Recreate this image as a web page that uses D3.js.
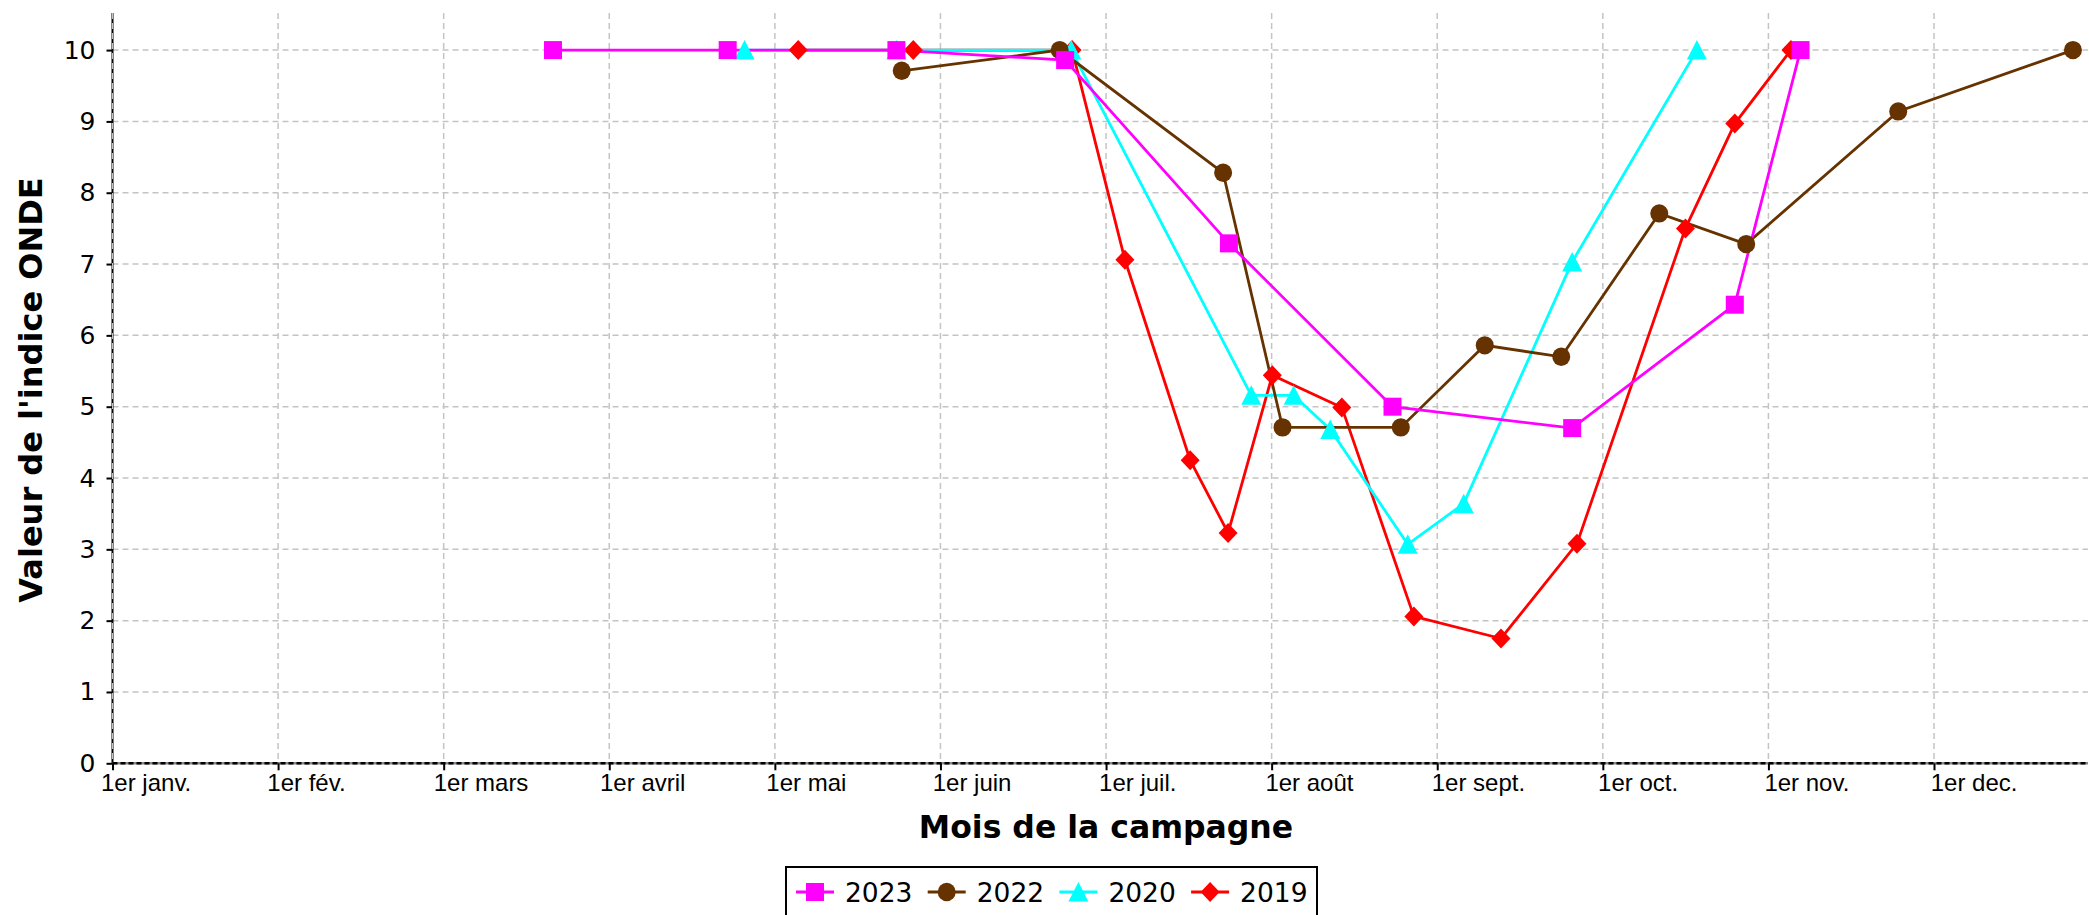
<!DOCTYPE html>
<html>
<head>
<meta charset="utf-8">
<script src="https://cdn.jsdelivr.net/npm/d3@7"></script>
<style>
  body { margin: 0; background: #fff; }
  svg { display: block; }
</style>
</head>
<body>
<div id="chart"></div>
<script>
// month position = month index (0 = janv.) + fraction of the month
var monthLabels = ["1er janv.", "1er fév.", "1er mars", "1er avril", "1er mai", "1er juin",
                   "1er juil.", "1er août", "1er sept.", "1er oct.", "1er nov.", "1er dec."];
var yTicks = [0, 1, 2, 3, 4, 5, 6, 7, 8, 9, 10];

var years = ["2023", "2022", "2020", "2019"];
var colors = ["#ff00ff", "#663300", "#00ffff", "#ff0000"];
var shapes = ["square", "circle", "triangle", "diamond"];

var m2023 = [2.66, 3.715, 4.734, 5.753, 6.742, 7.73, 8.815, 9.797, 10.194];
var v2023 = [10, 10, 10, 9.86, 7.29, 5.0, 4.70, 6.43, 10];

var m2022 = [4.766, 5.72, 6.707, 7.066, 7.78, 8.287, 8.749, 9.341, 9.866, 10.784, 11.839];
var v2022 = [9.71, 10, 8.28, 4.71, 4.71, 5.86, 5.70, 7.71, 7.28, 9.14, 10];

var m2020 = [3.817, 4.734, 5.79, 6.877, 7.133, 7.354, 7.822, 8.16, 8.815, 9.568];
var v2020 = [10, 10, 10, 5.16, 5.16, 4.68, 3.07, 3.64, 7.03, 10];

var m2019 = [4.141, 4.836, 5.795, 6.114, 6.508, 6.737, 7.004, 7.424, 7.859, 8.385, 8.844, 9.499, 9.797, 10.136];
var v2019 = [10, 10, 10, 7.06, 4.25, 3.23, 5.44, 4.99, 2.06, 1.75, 3.08, 7.50, 8.97, 10];

var seriesMonths = [m2023, m2022, m2020, m2019];
var seriesValues = [v2023, v2022, v2020, v2019];

var W = 2089, H = 915;
var plotLeft = 112.5, plotRight = 2088, plotTop = 13, plotBottom = 763.3;

var svg = d3.select("#chart").append("svg")
    .attr("width", W)
    .attr("height", H)
    .style("background-color", "#ffffff");

var x = d3.scaleLinear().domain([0, 11.93]).range([plotLeft, plotRight]);
var y = d3.scaleLinear().domain([0, 10.52]).range([plotBottom, plotTop]);

var series = years.map(function (yr, i) {
    return {
        year: yr, color: colors[i], shape: shapes[i],
        points: seriesMonths[i].map(function (m, j) { return { m: m, v: seriesValues[i][j] }; })
    };
});

// gridlines
var grid = svg.append("g");
grid.selectAll("line.h").data(yTicks).enter().append("line")
    .attr("x1", plotLeft).attr("x2", plotRight)
    .attr("y1", function (d) { return y(d); }).attr("y2", function (d) { return y(d); })
    .attr("stroke", "#c4c4c4").attr("stroke-width", 1.5).attr("stroke-dasharray", "6,4");
grid.selectAll("line.v").data(d3.range(1, monthLabels.length)).enter().append("line")
    .attr("x1", function (d) { return x(d); }).attr("x2", function (d) { return x(d); })
    .attr("y1", plotTop).attr("y2", plotBottom)
    .attr("stroke", "#c4c4c4").attr("stroke-width", 1.5).attr("stroke-dasharray", "6,4");

// axes
var yAxis = svg.append("g")
    .attr("transform", "translate(" + plotLeft + ",0)")
    .call(d3.axisLeft(y).tickValues(yTicks).tickSize(6).tickPadding(11).tickFormat(d3.format("d")));
yAxis.select(".domain").attr("d", "M0," + plotTop + "V" + plotBottom).attr("stroke", "#000").attr("stroke-width", 2);
yAxis.selectAll(".tick line").attr("stroke", "#000").attr("stroke-width", 2);
yAxis.selectAll(".tick text")
    .style("font-family", "'DejaVu Sans', sans-serif")
    .style("font-size", "25px")
    .attr("fill", "#000");
// gray dashes over the y axis line (gridline at janv.)
yAxis.append("line")
    .attr("x1", 0).attr("x2", 0).attr("y1", plotTop).attr("y2", plotBottom)
    .attr("stroke", "#c4c4c4").attr("stroke-width", 1).attr("stroke-dasharray", "6,4");

var xAxis = svg.append("g")
    .attr("transform", "translate(0," + plotBottom + ")")
    .call(d3.axisBottom(x).tickValues(d3.range(monthLabels.length)).tickSize(7)
        .tickFormat(function (d) { return monthLabels[d]; }));
xAxis.select(".domain").attr("d", "M" + plotLeft + ",0H" + plotRight).attr("stroke", "#888").attr("stroke-width", 2.5);
xAxis.append("line")
    .attr("x1", plotLeft).attr("x2", plotRight).attr("y1", 0).attr("y2", 0)
    .attr("stroke", "#000").attr("stroke-width", 2.5).attr("stroke-dasharray", "5,3");
xAxis.selectAll(".tick line").attr("stroke", "#000").attr("stroke-width", 2);
xAxis.selectAll(".tick text")
    .style("font-family", "'Liberation Sans', Arial, sans-serif")
    .style("font-size", "24px")
    .attr("fill", "#000")
    .attr("text-anchor", "start")
    .attr("dy", null)
    .attr("y", 28)
    .attr("x", function (d) { return -12 + 0.75 * d; });

// axis titles
svg.append("text")
    .attr("transform", "translate(42,390) rotate(-90)")
    .attr("text-anchor", "middle")
    .style("font-family", "'DejaVu Sans', sans-serif")
    .style("font-weight", "bold")
    .style("font-size", "32px")
    .text("Valeur de l'indice ONDE");

svg.append("text")
    .attr("x", 1106).attr("y", 838)
    .attr("text-anchor", "middle")
    .style("font-family", "'DejaVu Sans', sans-serif")
    .style("font-weight", "bold")
    .style("font-size", "31.5px")
    .text("Mois de la campagne");

// markers
function markerPath(shape) {
    if (shape === "square") return "M-9,-9H9V9H-9Z";
    if (shape === "triangle") return "M0,-10L10,9.5L-10,9.5Z";
    if (shape === "diamond") return "M0,-10L9.5,0L0,10L-9.5,0Z";
    return null;
}
function drawMarker(g, shape, color) {
    if (shape === "circle") {
        g.append("ellipse").attr("rx", 9).attr("ry", 9.2).attr("fill", color);
    } else {
        g.append("path").attr("d", markerPath(shape)).attr("fill", color);
    }
}

var line = d3.line()
    .x(function (d) { return x(d.m); })
    .y(function (d) { return y(d.v); });

var drawOrder = series.slice().reverse();
var plot = svg.append("g");
plot.selectAll("path.series").data(drawOrder).enter().append("path")
    .attr("d", function (s) { return line(s.points); })
    .attr("fill", "none")
    .attr("stroke", function (s) { return s.color; })
    .attr("stroke-width", 2.8);

drawOrder.forEach(function (s) {
    s.points.forEach(function (p) {
        var g = plot.append("g").attr("transform", "translate(" + x(p.m) + "," + y(p.v) + ")");
        drawMarker(g, s.shape, s.color);
    });
});

// legend
var legend = svg.append("g");
legend.append("rect")
    .attr("x", 786).attr("y", 867).attr("width", 531).attr("height", 70)
    .attr("fill", "#fff").attr("stroke", "#000").attr("stroke-width", 2);
series.forEach(function (s, i) {
    var x0 = 796 + i * 131.7;
    var item = legend.append("g").attr("transform", "translate(" + x0 + ",892)");
    item.append("line").attr("x1", 0).attr("x2", 38).attr("y1", 0).attr("y2", 0)
        .attr("stroke", s.color).attr("stroke-width", 2.8);
    var mg = item.append("g").attr("transform", "translate(19,0)");
    drawMarker(mg, s.shape, s.color);
    item.append("text")
        .attr("x", 49).attr("y", 9.5)
        .style("font-family", "'DejaVu Sans', sans-serif")
        .style("font-size", "26.5px")
        .text(s.year);
});
</script>
</body>
</html>
